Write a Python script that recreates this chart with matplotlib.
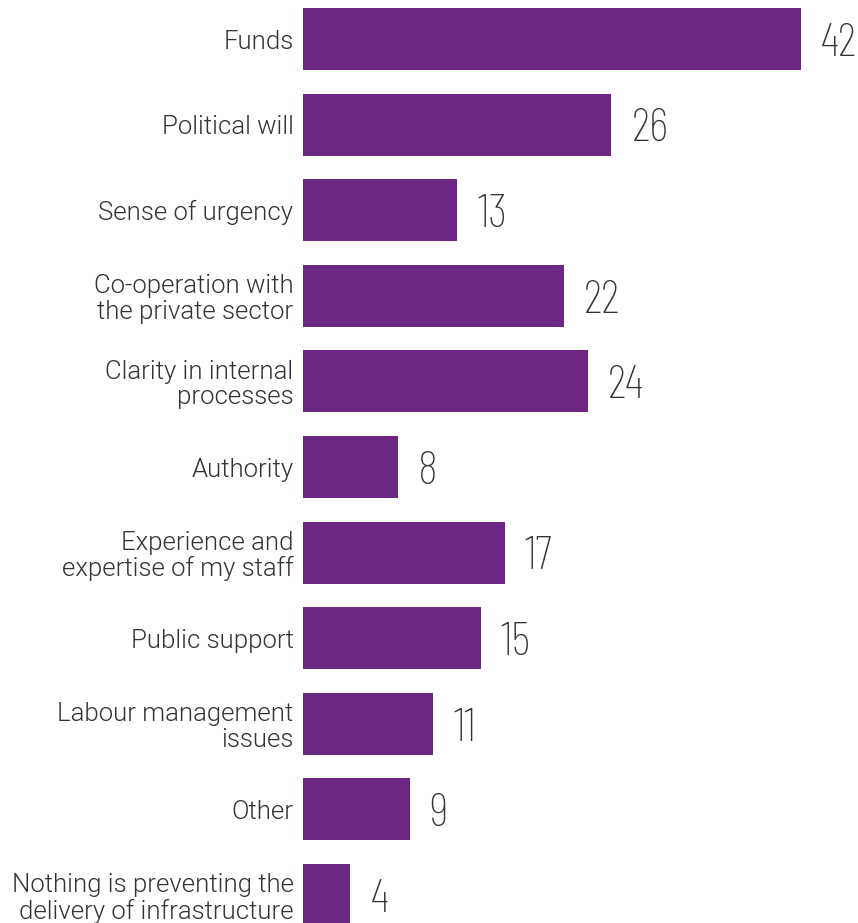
import matplotlib
matplotlib.use("Agg")
import matplotlib.pyplot as plt
from matplotlib import font_manager
from matplotlib.font_manager import FontProperties
from matplotlib.textpath import TextPath

categories = [
    "Funds",
    "Political will",
    "Sense of urgency",
    "Co-operation with\nthe private sector",
    "Clarity in internal\nprocesses",
    "Authority",
    "Experience and\nexpertise of my staff",
    "Public support",
    "Labour management\nissues",
    "Other",
    "Nothing is preventing the\ndelivery of infrastructure",
]
values = [42, 26, 13, 22, 24, 8, 17, 15, 11, 9, 4]

avail = {}
for f in font_manager.fontManager.ttflist:
    if f.style == "normal":
        avail.setdefault(f.name, set()).add(int(f.weight) if str(f.weight).isdigit() else 400)

def pick_lowest(cands):
    for name, wmax in cands:
        if name in avail:
            ws = sorted(w for w in avail[name] if w <= wmax)
            if ws:
                return FontProperties(family=name, weight=ws[0])
    return FontProperties(family="DejaVu Sans")

def pick_exact(cands):
    for name, w in cands:
        if name in avail and w in avail[name]:
            return FontProperties(family=name, weight=w)
    return FontProperties(family="DejaVu Sans")

num_fp = pick_lowest([("Antonio", 200), ("Barlow Condensed", 300), ("Saira ExtraCondensed", 300),
                      ("Fira Sans Extra Condensed", 300), ("Encode Sans Extra Condensed", 300),
                      ("Roboto Condensed", 300)])
lab_fp = pick_exact([("Roboto", 300), ("Open Sans", 300), ("Lato", 300), ("Liberation Sans", 400)])

def height_at(fp, s):
    return TextPath((0, 0), s, size=100, prop=fp).get_extents().height
def width_at(fp, s):
    return TextPath((0, 0), s, size=100, prop=fp).get_extents().width

num_px = 100 * 33.5 / height_at(num_fp, "4")
lab_px = 100 * 195 / width_at(lab_fp, "the private sector")
num_fp.set_size(num_px * 72 / 100)
lab_fp.set_size(lab_px * 72 / 100)

TXT = "#333333"
fig = plt.figure(figsize=(8.58, 9.23), dpi=100)
ax = fig.add_axes([303/858, 0, 1 - 303/858, 1])
pos = list(range(len(categories)))
ax.barh(pos, values, height=0.724, color="#6C2783")
ax.set_ylim(10.327, -0.456)
ax.set_xlim(0, 46.8)
ax.set_yticks(pos)
ax.set_yticklabels(categories, fontproperties=lab_fp, color=TXT,
                   linespacing=1.08, ha="right")
ax.tick_params(axis="y", length=0, pad=9.5 * 72 / 100)
ax.set_xticks([])
for s in ax.spines.values():
    s.set_visible(False)
for p, v in zip(pos, values):
    ax.annotate(str(v), (v, p), xytext=(20, -33.5 / 2), textcoords="offset pixels",
                va="baseline", ha="left", fontproperties=num_fp, color=TXT)
fig.savefig("out.png", dpi=100)
